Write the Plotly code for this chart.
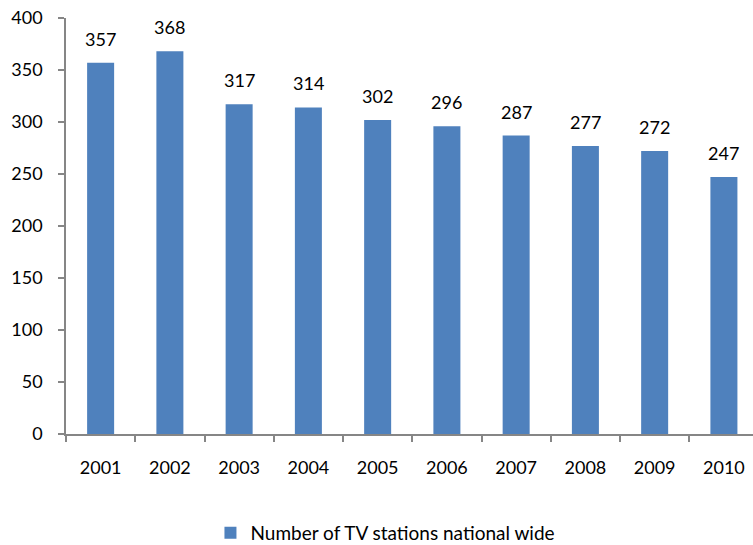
import plotly.graph_objects as go

years = ["2001", "2002", "2003", "2004", "2005", "2006", "2007", "2008", "2009", "2010"]
stations = [357, 368, 317, 314, 302, 296, 287, 277, 272, 247]
series_name = "Number of TV stations national wide"

FONT = "Lato"
fig = go.Figure()
fig.add_trace(go.Bar(
    x=years, y=stations, name=series_name,
    marker=dict(color="#4F81BD", line=dict(width=0)),
    showlegend=True,
))
for i, v in enumerate(stations):
    fig.add_annotation(x=i, y=v, text=str(v), showarrow=False,
                       yanchor="bottom", yshift=11,
                       font=dict(family=FONT, size=18, color="#000000"))

fig.update_layout(
    width=753, height=545,
    margin=dict(l=66, r=0, t=18, b=111, autoexpand=False),
    paper_bgcolor="white", plot_bgcolor="white",
    bargap=0.61,
    font=dict(family=FONT, size=18, color="#000000"),
    legend=dict(orientation="h", x=0.465, xanchor="center",
                yref="container", y=12 / 545, yanchor="middle",
                font=dict(family=FONT, size=19)),
)
fig.update_xaxes(
    type="category", range=[-0.5, 9.42],
    showline=True, linecolor="#868686", linewidth=1.5,
    ticks="outside", tickson="boundaries", ticklen=6, tickcolor="#868686", tickwidth=1.5,
    ticklabelstandoff=17, showgrid=False,
)
fig.update_yaxes(
    range=[0, 400], dtick=50,
    showline=True, linecolor="#868686", linewidth=1.5,
    ticks="outside", ticklen=6, tickcolor="#868686", tickwidth=1.5,
    ticklabelstandoff=12, showgrid=False, zeroline=False,
)
fig.write_html("out.html", config={"displayModeBar": False},
               post_script="document.body.style.margin='0';")
